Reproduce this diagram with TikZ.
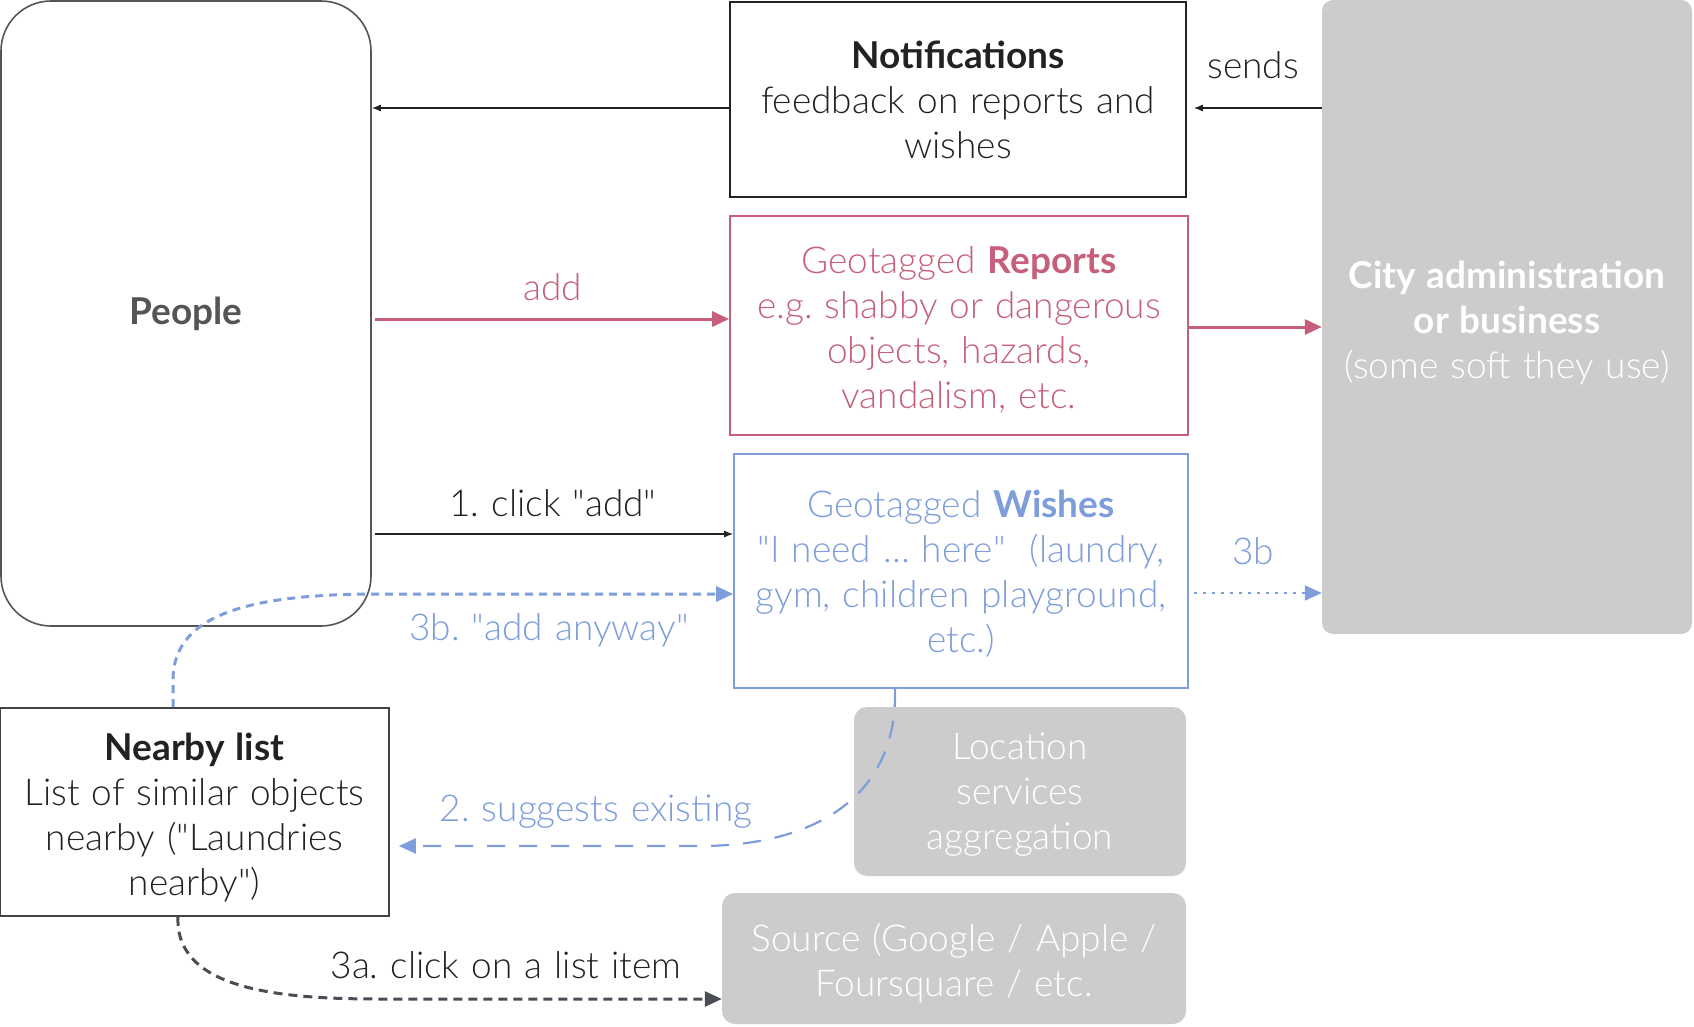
\documentclass[tikz,border=0pt]{standalone}
\usepackage{fontspec}
\setmainfont{Lato Light}[BoldFont={Lato Bold}, WordSpace=1.2]
\usetikzlibrary{arrows.meta}
\frenchspacing
\definecolor{rred}{RGB}{198,96,122}
\definecolor{bblue}{RGB}{125,157,219}
\definecolor{gbox}{RGB}{204,204,204}
\definecolor{ink}{RGB}{34,34,34}
\definecolor{pgray}{RGB}{85,85,85}
\definecolor{dgray}{RGB}{74,77,85}
\newcommand{\dq}{\textquotedbl}
\tikzset{
  base/.style={inner sep=0pt, align=center, font=\fontsize{37}{45}\selectfont\frenchspacing},
  wbox/.style={base, draw, line width=1.6pt, text=ink},
  gbx/.style={base, fill=gbox, rounded corners=13pt, text=white},
  lbl/.style={inner sep=0pt, font=\fontsize{37}{45}\selectfont\frenchspacing},
  thin/.style={line width=1.3pt, ink, -{Latex[length=9pt,width=7pt]}},
  fat/.style={line width=3pt, -{Triangle[length=17pt,width=15pt]}},
}
\begin{document}
\begin{tikzpicture}[x=1pt,y=-1pt]
\useasboundingbox (0,0) rectangle (1694,1027);
% nodes
\node[wbox, draw=pgray, text=pgray, rounded corners=50pt, minimum width=370pt, minimum height=625pt] (people) at (186,313.5) {\bfseries People};
\node[wbox, draw=ink, minimum width=456pt, minimum height=195pt] (notif) at (958,99.5) {\bfseries Notifications\\feedback on reports and\\wishes};
\node[wbox, draw=rred, text=rred, minimum width=458pt, minimum height=219pt] (reports) at (959,325.5) {\rule{0pt}{36pt}Geotagged \textbf{Reports}\\e.g. shabby or dangerous\\objects, hazards,\\vandalism, etc.};
\node[wbox, draw=bblue, text=bblue, minimum width=454pt, minimum height=234pt] (wishes) at (961,571) {\rule{0pt}{32pt}Geotagged \textbf{Wishes}\\\dq I need … here\dq\ \ (laundry,\\gym, children playground,\\etc.)};
\node[gbx, rounded corners=11pt, minimum width=370pt, minimum height=634pt] (city) at (1507,317) {\rule{0pt}{40pt}\bfseries City administration\\\bfseries or business\\(some soft they use)};
\node[wbox, draw=ink!85, minimum width=389pt, minimum height=208pt] (nearby) at (194.5,812) {\rule{0pt}{38pt}\bfseries Nearby list\\List of similar objects\\nearby (\dq Laundries\\nearby\dq)};
\node[gbx, minimum width=332pt, minimum height=169pt] (loc) at (1020,791.5) {\rule{0pt}{33pt}Location\\services\\aggregation};
\node[gbx, minimum width=464pt, minimum height=131pt] (source) at (954,958.5) {\rule{0pt}{37pt}Source (Google / Apple /\\Foursquare / etc.};
% connectors
\draw[thin] ([yshift=-8.5pt]notif.west) -- ([yshift=-8.5pt]notif.west -| people.east);
\draw[thin] ([yshift=-8.5pt]city.west |- notif.west) -- ([xshift=7pt,yshift=-8.5pt]notif.east);
\node[lbl, text=ink] (sends) at (1253,65) {sends};
\draw[fat, rred] ([yshift=6.5pt]reports.west -| people.east) ++(3,0) -- ([yshift=6.5pt]reports.west);
\node[lbl, text=rred] (addl) at (553,287) {add};
\draw[fat, rred] ([yshift=-1.5pt]reports.east) -- ([yshift=-1.5pt]reports.east -| city.west);
\draw[thin] ([yshift=37pt]wishes.west -| people.east) ++(3,0) -- ([yshift=37pt]wishes.west);
\node[lbl, text=ink] (clickl) at (553,503) {1. click \dq add\dq};
\draw[bblue, line width=3pt, dash pattern=on 8pt off 6pt, -{Triangle[length=17pt,width=15pt]}]
  (nearby.north -| 173,0) -- (173,680) .. controls (173,612) and (255,594) .. (380,594) -- ([yshift=-23pt]wishes.west);
\node[lbl, text=bblue] (anyl) at (549,630) {3b. \dq add anyway\dq};
\draw[bblue, line width=2pt, dash pattern=on 3pt off 6pt, -{Triangle[length=17pt,width=15pt]}]
  ([yshift=-22pt,xshift=5pt]wishes.east) -- ([yshift=-22pt]wishes.east -| city.west);
\node[lbl, text=bblue] (tbl) at (1253,551) {3b};
\draw[bblue, line width=2.2pt, dash pattern=on 18pt off 14pt, -{Triangle[length=17pt,width=15pt]}]
  ([xshift=-66pt]wishes.south) .. controls (898,800) and (810,846) .. (700,846) -- ([xshift=9pt,yshift=-34pt]nearby.east);
\node[lbl, text=bblue] (sugl) at (596,812) {2. suggests existing};
\draw[dgray, line width=3pt, dash pattern=on 9pt off 6pt, -{Triangle[length=17pt,width=15pt]}]
  ([xshift=-16.5pt]nearby.south) .. controls (175,990) and (280,999) .. (380,999) -- ([yshift=-40.5pt]source.west);
\node[lbl, text=ink] (al) at (506,965) {3a. click on a list item};
\end{tikzpicture}
\end{document}
